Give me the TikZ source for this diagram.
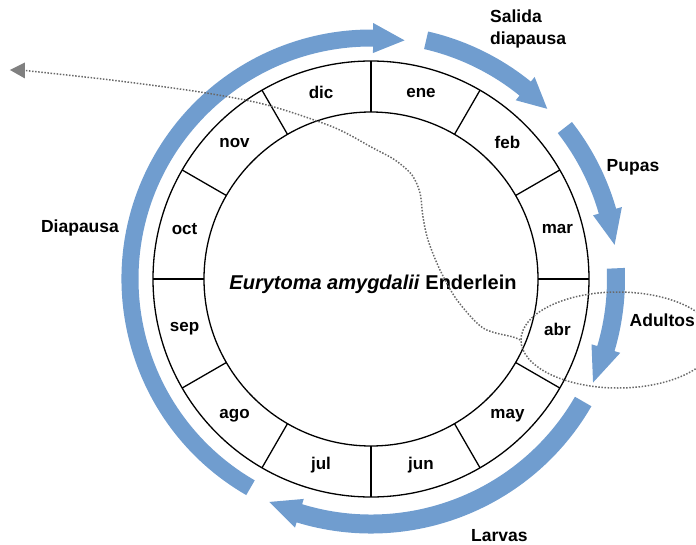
\documentclass[tikz,border=0pt]{standalone}
\usepackage{fontspec}
\setmainfont{Liberation Sans}
\usetikzlibrary{arrows.meta,shapes.geometric}
\definecolor{cycblue}{RGB}{112,157,207}
\definecolor{dotgray}{RGB}{105,105,105}
\tikzset{
  ring/.style={draw=black, line width=1.3pt},
  month/.style={font=\bfseries\fontsize{17}{20}\selectfont, inner sep=0pt},
  phase/.style={font=\bfseries\fontsize{17.5}{22}\selectfont, inner sep=0pt, align=left},
  dots/.style={draw=dotgray, line width=1.5pt, dash pattern=on 1.5pt off 1.6pt},
}
% radius, half band width, start angle, head base angle, tip angle, head half width
\newcommand{\cycarrow}[6]{%
  \fill[cycblue] (#3:#1pt+#2pt) arc[start angle=#3, end angle=#4, radius=#1pt+#2pt]
    -- (#4:#1pt+#6pt) -- (#5:#1pt) -- (#4:#1pt-#6pt) -- (#4:#1pt-#2pt)
    arc[start angle=#4, end angle=#3, radius=#1pt-#2pt] -- cycle;}
\begin{document}
\begin{tikzpicture}[x=1pt,y=1pt]
\useasboundingbox (-371,-265) rectangle (325,279);
\clip (-371,-265) rectangle (325,279);

% blue cycle arrows
\cycarrow{241}{8.5}{240}{89.5}{82}{15}   % Diapausa
\cycarrow{245}{9}{77}{51}{44}{15}        % Salida diapausa
\cycarrow{246}{9}{38}{16}{8}{15}         % Pupas
\cycarrow{245}{9}{2.5}{-16.5}{-25}{15}   % Adultos
\cycarrow{245}{9.5}{-30}{-107}{-114.5}{15} % Larvas

% month ring
\draw[ring] (0,0) circle[radius=218pt];
\draw[ring] (0,0) circle[radius=167pt];
\foreach \a in {0,30,...,330} \draw[ring] (\a:167pt) -- (\a:218pt);
\foreach \m [count=\i] in {ene,feb,mar,abr,may,jun,jul,ago,sep,oct,nov,dic}
  \node[month] (m\i) at ({105-30*\i}:193pt) {\m};

% centre title
\node[font=\bfseries\fontsize{20}{24}\selectfont, inner sep=0pt] (title) at (2,-5)
  {\textit{Eurytoma amygdalii} Enderlein};

% phase labels
\node[phase, anchor=west] (salida) at (119,250) {Salida\\diapausa};
\node[phase] (pupas) at (262,112) {Pupas};
\node[phase, anchor=east] (adultos) at (324,-41) {Adultos};
\node[phase, anchor=base west] (larvas) at (100,-262) {Larvas};
\node[phase] (diapausa) at (-291,51) {Diapausa};

% dotted ellipse and dotted arrow
\node[dots, ellipse, minimum width=194pt, minimum height=96pt, inner sep=0pt] (adultsEllipse) at (247,-61) {};
\coordinate (dotBase) at (-346,208.5);
\coordinate (dotEnd) at (-361,209);
\draw[dots]
  plot[smooth, tension=0.5] coordinates {(adultsEllipse.west) (142,-58) (112,-49) (86,-21) (69,9) (57,39) (52,62) (49,86) (41,104) (24,119) (2,131) (-38,152) (-104,174) (-171,187) (-260,199) (dotBase)};
\fill[dotgray!85!white] (dotEnd) -- ([yshift=8pt]dotBase) -- ([yshift=-8pt]dotBase) -- cycle;
\end{tikzpicture}
\end{document}
